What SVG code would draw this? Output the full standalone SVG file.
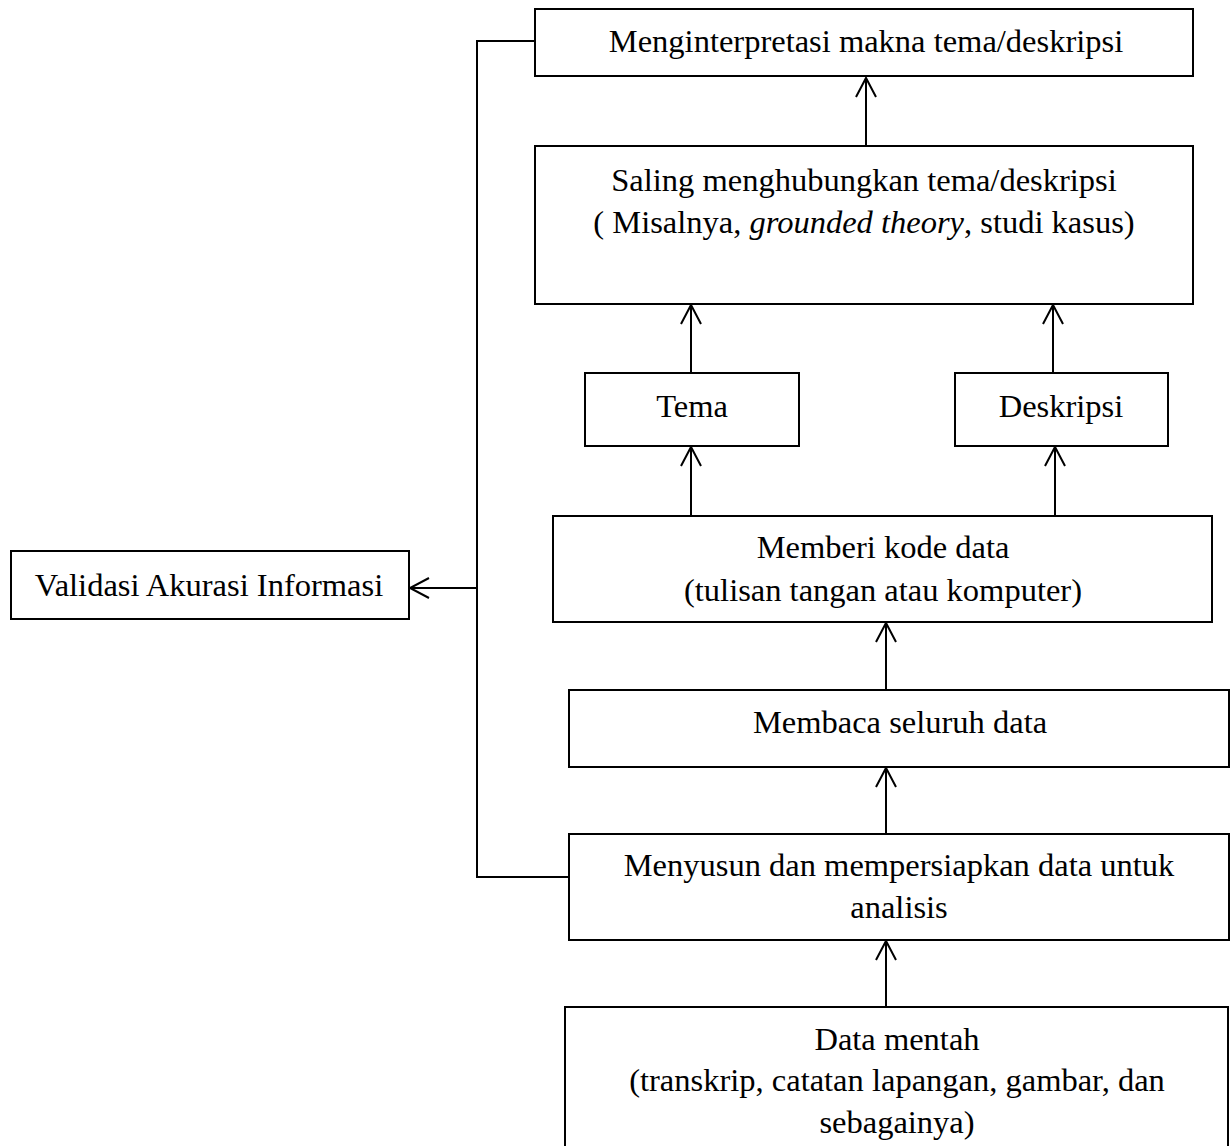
<svg xmlns="http://www.w3.org/2000/svg" width="1232" height="1146" viewBox="0 0 1232 1146">
<style>
rect.box{fill:#fff;stroke:#000;stroke-width:2}
text{font-family:"Liberation Serif","Times New Roman",serif;font-size:32.5px;fill:#000;text-anchor:middle}
.conn{fill:none;stroke:#000;stroke-width:2}
</style>
<defs>
<marker id="arr" markerUnits="userSpaceOnUse" markerWidth="26" markerHeight="26" viewBox="-22 -13 26 26" refX="0" refY="0" orient="auto" overflow="visible">
<path d="M-19,-10 L0,0 L-19,10" fill="none" stroke="#000" stroke-width="2"/>
</marker>
</defs>
<rect width="1232" height="1146" fill="#fff"/>
<g id="connectors">
<path class="conn" d="M535,41 H477 V877 H569"/>
<path class="conn" d="M477,588 H410" marker-end="url(#arr)"/>
<path class="conn" d="M866,146 V78" marker-end="url(#arr)"/>
<path class="conn" d="M691,373 V305" marker-end="url(#arr)"/>
<path class="conn" d="M1053,373 V305" marker-end="url(#arr)"/>
<path class="conn" d="M691,516 V447" marker-end="url(#arr)"/>
<path class="conn" d="M1055,516 V447" marker-end="url(#arr)"/>
<path class="conn" d="M886,690 V623" marker-end="url(#arr)"/>
<path class="conn" d="M886,834 V768" marker-end="url(#arr)"/>
<path class="conn" d="M886,1007 V941" marker-end="url(#arr)"/>
</g>
<g id="n-interpretasi">
<rect class="box" x="535" y="9" width="658" height="67"/>
<text x="866" y="52">Menginterpretasi makna tema/deskripsi</text>
</g>
<g id="n-saling">
<rect class="box" x="535" y="146" width="658" height="158"/>
<text x="864" y="191">Saling menghubungkan tema/deskripsi</text>
<text x="864" y="233">( Misalnya, <tspan font-style="italic">grounded theory</tspan>, studi kasus)</text>
</g>
<g id="n-tema">
<rect class="box" x="585" y="373" width="214" height="73"/>
<text x="692" y="417">Tema</text>
</g>
<g id="n-deskripsi">
<rect class="box" x="955" y="373" width="213" height="73"/>
<text x="1061" y="417">Deskripsi</text>
</g>
<g id="n-validasi">
<rect class="box" x="11" y="551" width="398" height="68"/>
<text x="209" y="596">Validasi Akurasi Informasi</text>
</g>
<g id="n-memberi">
<rect class="box" x="553" y="516" width="659" height="106"/>
<text x="883" y="558">Memberi kode data</text>
<text x="883" y="601">(tulisan tangan atau komputer)</text>
</g>
<g id="n-membaca">
<rect class="box" x="569" y="690" width="660" height="77"/>
<text x="900" y="733">Membaca seluruh data</text>
</g>
<g id="n-menyusun">
<rect class="box" x="569" y="834" width="660" height="106"/>
<text x="899" y="876">Menyusun dan mempersiapkan data untuk</text>
<text x="899" y="918">analisis</text>
</g>
<g id="n-data">
<rect class="box" x="565" y="1007" width="663" height="150"/>
<text x="897" y="1050">Data mentah</text>
<text x="897" y="1091">(transkrip, catatan lapangan, gambar, dan</text>
<text x="897" y="1133">sebagainya)</text>
</g>
</svg>
